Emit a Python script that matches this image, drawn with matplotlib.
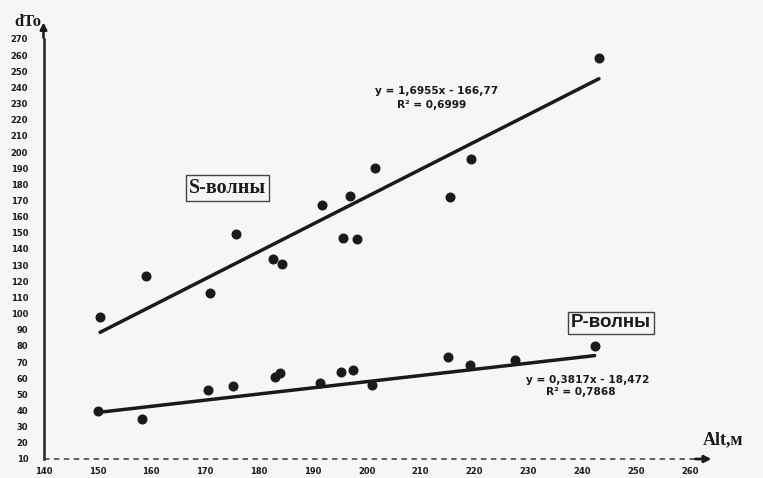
import numpy as np
import matplotlib
matplotlib.use("Agg")
import matplotlib.pyplot as plt

# Altitude (m) and delay dTo for S- and P-waves
alt_s = [150.5, 159.0, 170.9, 175.7, 182.6, 184.2, 191.7, 195.6, 196.9, 198.2, 201.5, 215.4, 219.3, 243.1]
dt_s = [98, 123, 113, 149, 134, 131, 167, 147, 173, 146, 190, 172, 196, 258]
alt_p = [150.2, 158.2, 170.6, 175.2, 182.9, 183.9, 191.4, 195.3, 197.5, 200.9, 215.1, 219.1, 227.5, 242.3]
dt_p = [40, 35, 53, 55, 61, 63, 57, 64, 65, 56, 73, 68, 71, 80]

# Linear trend coefficients (slope, intercept) and R^2
fit_s = (1.6955, -166.77)
r2_s = "0,6999"
fit_p = (0.3817, -18.472)
r2_p = "0,7868"

x_ticks = list(range(140, 261, 10))
y_ticks = list(range(10, 271, 10))

W, H = 763, 478
fig = plt.figure(figsize=(W / 100, H / 100), dpi=100)
fig.patch.set_facecolor("#f6f6f4")

ax = fig.add_axes([43.5 / W, (H - 459) / H, (690 - 43.5) / W, 420 / H])
ax.set_facecolor("none")
ax.set_xlim(140, 260)
ax.set_ylim(10, 270)

for side in ("top", "right", "bottom"):
    ax.spines[side].set_visible(False)
ax.spines["left"].set_linewidth(1.8)
ax.spines["left"].set_color("#222222")

ink = "#1a1a1a"

# dashed horizontal axis with arrow and label
ax.plot([140, 261.5], [10, 10], color="#555555", lw=1.3, ls=(0, (3, 2.5)),
        clip_on=False)
ax.annotate("", xy=(264.5, 10), xytext=(260.5, 10), xycoords="data",
            arrowprops=dict(arrowstyle="-|>", color=ink, lw=2,
                            mutation_scale=10), annotation_clip=False)
fig.text(703 / W, 1 - 440 / H, "Alt,м", fontsize=13, fontweight="bold",
         family="Liberation Serif", color=ink, va="center", ha="left")

# vertical axis arrow and label
ax.annotate("", xy=(140, 282), xytext=(140, 269), xycoords="data",
            arrowprops=dict(arrowstyle="-|>", color=ink, lw=1.8,
                            mutation_scale=10), annotation_clip=False)
fig.text(14 / W, 1 - 22 / H, "dTo", fontsize=12, fontweight="bold",
         family="Liberation Serif", color=ink, va="center", ha="left")

ax.set_xticks(x_ticks)
ax.set_yticks(y_ticks)
tick_font = dict(fontsize=6, fontweight="bold", color=ink, family="DejaVu Sans")
ax.set_xticklabels([str(v) for v in x_ticks], **tick_font)
ax.set_yticklabels([str(v) for v in y_ticks], **tick_font)
ax.tick_params(axis="x", length=0, pad=6)
ax.tick_params(axis="y", length=0, pad=11)

# observations
ax.plot(alt_s, dt_s, "o", color=ink, ms=6.2, clip_on=False)
ax.plot(alt_p, dt_p, "o", color=ink, ms=6.2, clip_on=False)

# trend lines over the observed altitude range
for alts, (k, b) in ((alt_s, fit_s), (alt_p, fit_p)):
    xs = np.array([min(alts), max(alts)])
    ax.plot(xs, k * xs + b, color=ink, lw=2.5, solid_capstyle="round")


def eq_text(k, b):
    return ("y = " + f"{k:.4f}".replace(".", ",") + "x - "
            + f"{abs(b):g}".replace(".", ","))


eq_style = dict(fontsize=7.6, fontweight="bold", color=ink, ha="center",
                va="center", family="DejaVu Sans")
# positions in pixel-derived data units
ax.text(140 + (437 - 43.5) / 5.39, 10 + (459 - 91) / 1.615, eq_text(*fit_s), **eq_style)
ax.text(140 + (432 - 43.5) / 5.39, 10 + (459 - 105) / 1.615, "R² = " + r2_s, **eq_style)
ax.text(140 + (588 - 43.5) / 5.39, 10 + (459 - 380) / 1.615, eq_text(*fit_p), **eq_style)
ax.text(140 + (581 - 43.5) / 5.39, 10 + (459 - 392) / 1.615, "R² = " + r2_p, **eq_style)

box = dict(boxstyle="square,pad=0.15", fc="none", ec="#444444", lw=1)
ax.text(140 + (228 - 43.5) / 5.39, 10 + (459 - 188) / 1.615, "S-волны",
        fontsize=14.5, fontweight="bold", family="Liberation Serif",
        color=ink, ha="center", va="center", bbox=box)
ax.text(140 + (611 - 43.5) / 5.39, 10 + (459 - 323) / 1.615, "P-волны",
        fontsize=13.5, fontweight="bold", family="Liberation Sans",
        color=ink, ha="center", va="center", bbox=box)

fig.savefig("out.png", dpi=100, facecolor=fig.get_facecolor())
